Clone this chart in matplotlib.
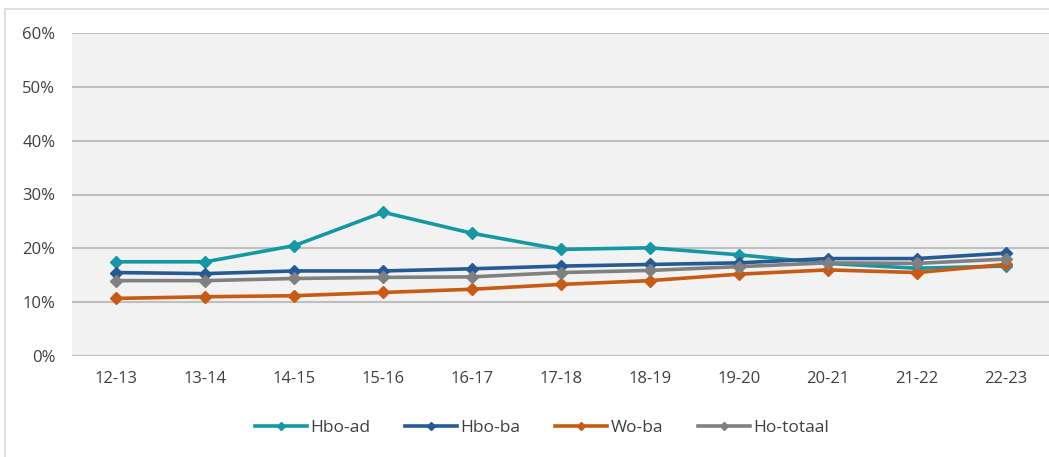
import matplotlib
matplotlib.use("Agg")
import matplotlib.pyplot as plt
from matplotlib.patches import Rectangle
from matplotlib.ticker import FuncFormatter, MultipleLocator

# data (percentages)
jaren = ["12-13", "13-14", "14-15", "15-16", "16-17", "17-18",
         "18-19", "19-20", "20-21", "21-22", "22-23"]
hbo_ad = [17.5, 17.5, 20.5, 26.7, 22.8, 19.8, 20.1, 18.8, 17.2, 16.3, 16.7]
hbo_ba = [15.5, 15.3, 15.8, 15.8, 16.2, 16.7, 17.0, 17.3, 18.1, 18.1, 19.1]
wo_ba = [10.7, 11.0, 11.2, 11.8, 12.4, 13.3, 14.0, 15.2, 16.0, 15.5, 17.0]
ho_totaal = [14.0, 14.0, 14.4, 14.6, 14.7, 15.5, 15.9, 16.6, 17.3, 17.2, 18.0]

series = [
    ("Hbo-ad", hbo_ad, "#1597A5"),
    ("Hbo-ba", hbo_ba, "#255A96"),
    ("Wo-ba", wo_ba, "#C85A14"),
    ("Ho-totaal", ho_totaal, "#808080"),
]

plt.rcParams["font.family"] = ["Open Sans", "DejaVu Sans"]
TXT = "#404040"

W, H = 1049, 457
fig = plt.figure(figsize=(W / 100, H / 100), dpi=100)

# borde exterior del grafico
fig.patches.append(Rectangle((5 / W, -0.1), 1.2, 1 - 9 / H + 0.1,
                             transform=fig.transFigure, fill=False,
                             edgecolor="#D9D9D9", linewidth=1.2))

ax = fig.add_axes([72 / W, 1 - 356 / H, (W - 72) / W + 0.001, 323 / H])
ax.set_facecolor("#F2F2F2")

x = list(range(len(jaren)))
for nombre, vals, color in series:
    ax.plot(x, vals, color=color, lw=2.6, marker="D", ms=6.5,
            label=nombre, zorder=3)

ax.set_xlim(-0.5, len(jaren) - 0.5)
ax.set_ylim(0, 60)
ax.yaxis.set_major_locator(MultipleLocator(10))
ax.yaxis.set_major_formatter(FuncFormatter(lambda v, _: f"{v:.0f}%"))
ax.set_xticks(x)
ax.set_xticklabels(jaren)
ax.grid(axis="y", color="#BFBFBF", lw=1.5, zorder=1)
ax.set_axisbelow(True)
for s in ax.spines.values():
    s.set_visible(False)
ax.tick_params(length=0, labelsize=12, labelcolor=TXT)
ax.tick_params(axis="x", pad=11)
ax.tick_params(axis="y", pad=12)

leg = fig.legend(loc="center", bbox_to_anchor=(542 / W, 1 - 428 / H),
                 ncol=4, frameon=False, fontsize=12.5, handlelength=3.0,
                 columnspacing=2.0, handletextpad=0.2, markerscale=0.7)
for t in leg.get_texts():
    t.set_color(TXT)

fig.savefig("out.png", dpi=100)
